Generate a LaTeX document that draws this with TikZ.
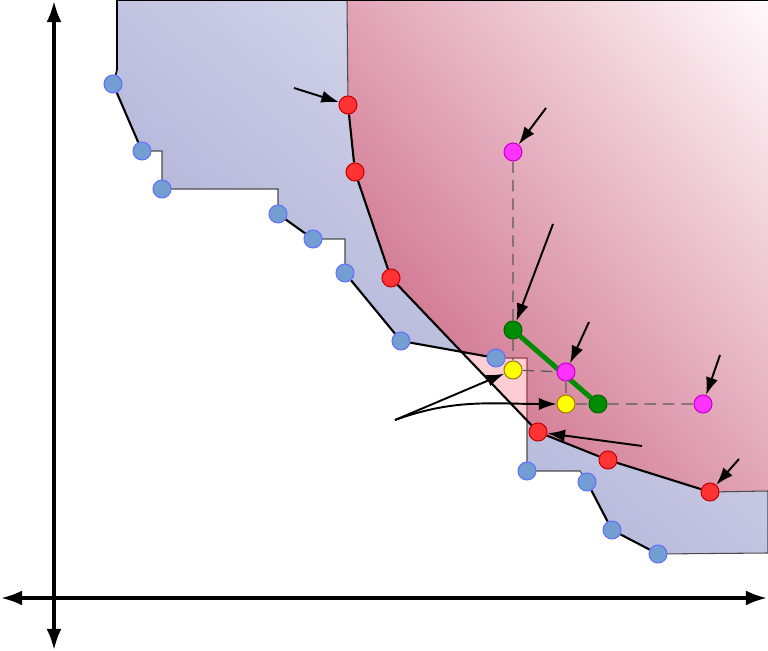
\documentclass[tikz,border=0pt]{standalone}
\usetikzlibrary{arrows.meta,calc,shadings}

\definecolor{bluedark}{RGB}{150,153,203}
\definecolor{bluemid}{RGB}{194,196,225}
\definecolor{bluelight}{RGB}{237,239,247}
\definecolor{reddark}{RGB}{195,80,113}
\definecolor{redmid}{RGB}{225,165,182}
\definecolor{redlight}{RGB}{255,250,252}
\definecolor{ptblue}{RGB}{115,158,210}
\definecolor{ptblueline}{RGB}{100,110,255}
\definecolor{ptred}{RGB}{255,51,51}
\definecolor{ptredline}{RGB}{200,0,0}
\definecolor{ptmag}{RGB}{255,51,255}
\definecolor{ptmagline}{RGB}{204,0,204}
\definecolor{ptgreen}{RGB}{0,140,0}
\definecolor{ptgreenline}{RGB}{0,100,0}
\definecolor{ptyellow}{RGB}{255,255,0}
\definecolor{ptyellowline}{RGB}{170,120,0}
\definecolor{gapfill}{RGB}{252,205,210}
\definecolor{gapline}{RGB}{150,60,75}

\pgfdeclarelayer{bg}
\pgfdeclarelayer{lines}
\pgfsetlayers{bg,lines,main}

\begin{document}
\begin{tikzpicture}[
    x=0.02cm, y=-0.02cm,
    pt/.style={circle, inner sep=0pt, minimum size=0.36cm, line width=0.6pt},
    bpt/.style={pt, fill=ptblue, draw=ptblueline},
    rpt/.style={pt, fill=ptred, draw=ptredline},
    mpt/.style={pt, fill=ptmag, draw=ptmagline},
    gpt/.style={pt, fill=ptgreen, draw=ptgreenline},
    ypt/.style={pt, fill=ptyellow, draw=ptyellowline},
    front/.style={line width=1.2pt, black},
    edge/.style={line width=0.6pt, gray!60!black},
    guide/.style={line width=0.7pt, black!65, dash pattern=on 6.5pt off 4pt},
    segment/.style={line width=2.8pt, ptgreen},
    pointer/.style={-{Latex[length=10pt,width=7pt]}, line width=1.1pt},
    axistip/.style={-{Latex[length=12pt,width=8.5pt]}, line width=1.8pt}
]
    \useasboundingbox (0,0) rectangle (768,651);

    % blue front
    \node[bpt] (b1) at (113,84) {};
    \node[bpt] (b2) at (142,151) {};
    \node[bpt] (b3) at (162,189) {};
    \node[bpt] (b4) at (278,214) {};
    \node[bpt] (b5) at (313,239) {};
    \node[bpt] (b6) at (345,273) {};
    \node[bpt] (b7) at (401,341) {};
    \node[bpt] (b8) at (496,358) {};
    \node[bpt] (b9) at (527,471) {};
    \node[bpt] (b10) at (587,482) {};
    \node[bpt] (b11) at (612,530) {};
    \node[bpt] (b12) at (658,554) {};

    % red front
    \node[rpt] (r1) at (348,105) {};
    \node[rpt] (r2) at (355,172) {};
    \node[rpt] (r3) at (391,278) {};
    \node[rpt] (r4) at (538,432) {};
    \node[rpt] (r5) at (608,460) {};
    \node[rpt] (r6) at (710,492) {};

    % reference points
    \node[mpt] (m1) at (513,152) {};
    \node[mpt] (m2) at (566,372) {};
    \node[mpt] (m3) at (703,404) {};
    \node[gpt] (g1) at (513,330) {};
    \node[gpt] (g2) at (598,404) {};
    \node[ypt] (y1) at (513,370) {};
    \node[ypt] (y2) at (566,404) {};

    % corners of the gap between both fronts
    \coordinate (gapcut) at (intersection of b7.center--b8.center and r3.center--r4.center);
    \coordinate (gaptop) at (527,358);
    \coordinate (gapend) at (intersection of r3.center--r4.center and gaptop--b9.center);

    % regions
    \begin{pgfonlayer}{bg}
        \shade[lower left=bluedark, upper right=bluelight, upper left=bluemid, lower right=bluemid]
            (117,0) -- (117,70) -- (b1.center) -- (b2.center) -| (b3.center) -| (b4.center) -- (b5.center)
            -| (b6.center) -- (b7.center) -- (b8.center) -- (gaptop) -- (b9.center) -- (580,471) -- (b10.center)
            -- (b11.center) -- (b12.center) -- (768,553) -- (768,0) -- cycle;
        \draw[edge]
            (b2.center) -| (b3.center) -| (b4.center) (b5.center) -| (b6.center)
            (gaptop) -- (b9.center) -- (580,471) -- (b10.center)
            (b12.center) -- (768,553) -- (768,0);
        \shade[lower left=reddark, upper right=redlight, upper left=redmid, lower right=redmid]
            (347,0) -- (r1.center) -- (r2.center) -- (r3.center) -- (r4.center)
            -- (r5.center) -- (r6.center) -- (768,491) -- (768,0) -- cycle;
        \draw[edge] (347,0) -- (r1.center) (r6.center) -- (768,491);
        \fill[gapfill] (gapcut) -- (b8.center) -- (gaptop) -- (gapend) -- cycle;
        \draw[gapline, line width=0.6pt] (b8.center) -- (gaptop) -- (gapend);
    \end{pgfonlayer}

    % front lines and guides
    \begin{pgfonlayer}{lines}
        \draw[front, line width=0.9pt] (768,0) -- (117,0) -- (117,70) -- (b1);
        \draw[front] (b1) -- (b2) (b4) -- (b5) (b6) -- (b7) -- (b8) (b10) -- (b11) -- (b12);
        \draw[front] (r1) -- (r2) -- (r3) -- (r4) -- (r5) -- (r6);
        \draw[guide] (m1) -- (g1) -- (y1) -- (m2) -- (y2) -- (g2) -- (m3);
        \draw[segment] (g1) -- (g2);
    \end{pgfonlayer}

    % pointers
    \coordinate (p1) at (294,88);
    \coordinate (p2) at (546,108);
    \coordinate (p3) at (553,224);
    \coordinate (p4) at (589,322);
    \coordinate (p5) at (720,355);
    \coordinate (p6) at (739,459);
    \coordinate (p7) at (642,446);
    \coordinate (p8) at (395,420);
    \draw[pointer] (p1) -- (r1);
    \draw[pointer] (p2) -- (m1);
    \draw[pointer] (p3) -- (g1);
    \draw[pointer] (p4) -- (m2);
    \draw[pointer] (p5) -- (m3);
    \draw[pointer] (p6) -- (r6);
    \draw[pointer] (p7) -- (r4);
    \draw[pointer] (p8) -- (y1);
    \draw[pointer] (p8) to[out=20, in=180] (y2);

    % axes
    \coordinate (o) at (54,598);
    \coordinate (xl) at (1,598);
    \coordinate (xr) at (767,598);
    \coordinate (yt) at (54,1);
    \coordinate (yb) at (54,650);
    \draw[axistip] (o) -- (xl);
    \draw[axistip] (o) -- (xr);
    \draw[axistip] (o) -- (yt);
    \draw[axistip] (o) -- (yb);

\end{tikzpicture}
\end{document}
